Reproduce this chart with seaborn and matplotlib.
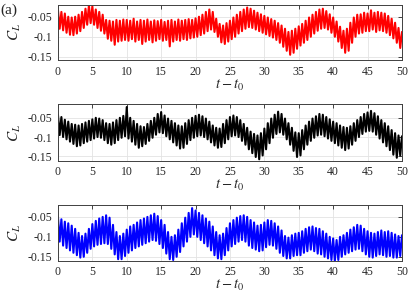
import numpy as np
import pandas as pd
import matplotlib
matplotlib.use('Agg')
import matplotlib.pyplot as plt
import seaborn as sns

# peak / trough values of C_L (x1000), every half time unit
red_peaks = [-33, -38, -42, -50, -52, -50, -45, -38, -30, -22,
             -24, -32, -38, -45, -58, -60, -62, -58, -60, -57,
             -58, -60, -55, -62, -58, -60, -57, -62, -59, -61,
             -58, -63, -60, -58, -62, -57, -60, -58, -56, -58,
             -54, -50, -45, -38, -32, -38, -55, -68, -72, -66,
             -60, -52, -45, -38, -32, -27, -30, -35, -40, -44,
             -48, -52, -56, -60, -66, -72, -80, -88, -85, -80,
             -74, -68, -60, -52, -45, -38, -32, -30, -36, -44,
             -52, -62, -75, -85, -80, -65, -52, -45, -44, -40,
             -42, -34, -40, -38, -40, -42, -48, -55, -65, -78,
             -88]
red_troughs = [-80, -84, -90, -95, -96, -92, -86, -78, -70, -66,
               -70, -78, -85, -92, -105, -110, -120, -112, -110, -108,
               -110, -106, -112, -108, -118, -112, -108, -114, -110, -106,
               -110, -108, -124, -112, -108, -110, -106, -108, -104, -102,
               -100, -96, -92, -86, -82, -88, -100, -114, -118, -112,
               -106, -100, -92, -86, -80, -76, -78, -82, -86, -90,
               -94, -98, -102, -108, -115, -125, -135, -145, -140, -130,
               -122, -115, -108, -100, -92, -85, -80, -78, -82, -90,
               -100, -112, -128, -140, -135, -115, -100, -92, -90, -86,
               -86, -82, -88, -84, -86, -90, -96, -104, -115, -128]

black_peaks = [-42, -48, -55, -60, -66, -68, -70, -66, -62, -58,
               -54, -50, -52, -56, -64, -66, -62, -56, -50, -45,
               -22, -50, -58, -66, -72, -74, -66, -58, -50, -40,
               -35, -44, -52, -58, -64, -70, -72, -64, -56, -50,
               -45, -42, -46, -52, -60, -70, -76, -78, -66, -56,
               -48, -44, -48, -56, -66, -76, -86, -92, -96, -90,
               -78, -64, -52, -42, -34, -40, -52, -64, -76, -88,
               -90, -82, -70, -60, -52, -46, -40, -42, -48, -54,
               -60, -64, -70, -74, -76, -72, -64, -56, -48, -40,
               -36, -32, -38, -46, -56, -64, -72, -82, -90, -96,
               -98]
black_troughs = [-95, -100, -106, -112, -118, -124, -122, -116, -112, -108,
                 -104, -100, -102, -108, -116, -120, -116, -108, -102, -98,
                 -104, -112, -120, -128, -124, -118, -110, -102, -94, -88,
                 -90, -98, -106, -114, -122, -130, -128, -118, -108, -102,
                 -98, -96, -100, -106, -114, -122, -128, -126, -116, -106,
                 -98, -96, -100, -110, -120, -132, -142, -152, -158, -148,
                 -132, -116, -102, -92, -88, -94, -106, -120, -136, -152,
                 -148, -132, -120, -110, -102, -96, -94, -98, -104, -110,
                 -116, -122, -128, -134, -130, -120, -110, -100, -92, -86,
                 -84, -86, -94, -104, -114, -124, -134, -146, -154, -148]

blue_peaks = [-50, -56, -62, -66, -72, -80, -90, -98, -92, -80,
              -68, -60, -54, -50, -46, -52, -70, -88, -98, -92,
              -82, -74, -70, -64, -58, -54, -50, -46, -42, -48,
              -58, -70, -88, -100, -96, -82, -66, -52, -40, -28,
              -34, -40, -46, -54, -62, -74, -88, -96, -92, -78,
              -66, -58, -52, -48, -46, -50, -58, -64, -72, -70,
              -64, -58, -60, -66, -74, -84, -98, -102, -96, -92,
              -90, -86, -80, -76, -74, -78, -80, -86, -92, -100,
              -104, -108, -100, -96, -90, -82, -76, -70, -72, -80,
              -86, -90, -92, -88, -84, -88, -86, -90, -94, -98,
              -96]
blue_troughs = [-112, -122, -128, -134, -140, -146, -152, -150, -140, -130,
                -124, -120, -118, -116, -118, -130, -144, -156, -156, -148,
                -140, -134, -128, -124, -120, -116, -112, -108, -110, -118,
                -128, -142, -156, -158, -150, -138, -124, -112, -100, -94,
                -100, -108, -116, -124, -134, -146, -154, -156, -146, -134,
                -124, -118, -112, -108, -112, -122, -128, -132, -136, -134,
                -126, -120, -122, -130, -140, -148, -154, -154, -148, -146,
                -146, -140, -136, -132, -136, -142, -144, -150, -154, -158,
                -160, -158, -150, -144, -140, -136, -132, -130, -136, -144,
                -150, -152, -148, -144, -146, -150, -148, -152, -152, -148]

peak_times = np.linspace(0, 50, 101)
trough_times = peak_times[:-1] + 0.25

x_ticks = [0, 5, 10, 15, 20, 25, 30, 35, 40, 45, 50]
y_ticks = [-0.15, -0.1, -0.05]
y_tick_labels = ['-0.15', '-0.1', '-0.05']


def make_signal(peaks, troughs):
    t = np.empty(len(peaks) + len(troughs))
    v = np.empty_like(t)
    t[0::2] = peak_times
    t[1::2] = trough_times
    v[0::2] = np.array(peaks) / 1000.0
    v[1::2] = np.array(troughs) / 1000.0
    return pd.DataFrame({'t': t, 'CL': v})


sns.set_style('white')
plt.rcParams['font.family'] = ['Liberation Serif', 'DejaVu Serif']
plt.rcParams['mathtext.fontset'] = 'stix'

fig = plt.figure(figsize=(4.11, 2.94), dpi=100)

panels = [
    (red_peaks, red_troughs, '#ff0000', [0.141, 0.796, 0.837, 0.188], (-0.158, -0.02)),
    (black_peaks, black_troughs, '#000000', [0.141, 0.453, 0.837, 0.192], (-0.162, -0.015)),
    (blue_peaks, blue_troughs, '#0000ff', [0.141, 0.113, 0.837, 0.190], (-0.16, -0.02)),
]

for peaks, troughs, col, pos, ylim in panels:
    ax = fig.add_axes(pos)
    df = make_signal(peaks, troughs)
    sns.lineplot(data=df, x='t', y='CL', ax=ax, color=col, lw=1.5,
                 estimator=None, sort=False)
    ax.set_xlim(0, 50)
    ax.set_ylim(*ylim)
    ax.set_xticks(x_ticks)
    ax.set_xticklabels([str(v) for v in x_ticks])
    ax.set_yticks(y_ticks)
    ax.set_yticklabels(y_tick_labels)
    ax.grid(True, color='#e3e3e3', lw=0.6)
    ax.set_axisbelow(True)
    ax.tick_params(direction='in', top=True, right=True, length=3,
                   width=0.6, labelsize=8.5, colors='#262626', pad=4)
    for s in ax.spines.values():
        s.set_color('#404040')
        s.set_linewidth(0.7)
    ax.set_xlabel('$t-t_0$', fontsize=10.5, labelpad=0)
    ax.set_ylabel('$C_L$', fontsize=11, labelpad=3)

fig.text(0.0, 0.965, '(a)', fontsize=11, va='center', ha='left')

fig.savefig('out.png', dpi=100)
